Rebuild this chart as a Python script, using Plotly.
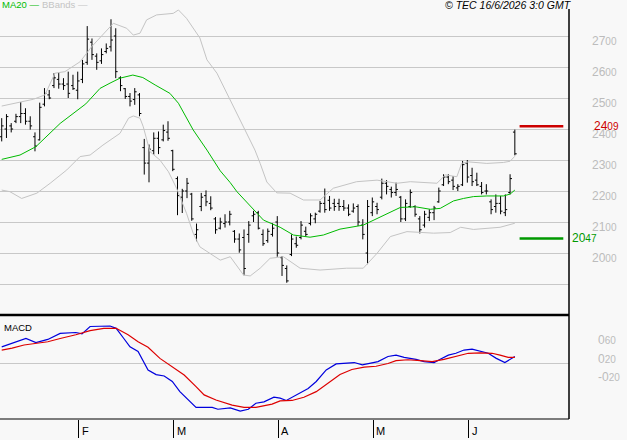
import plotly.graph_objects as go
import pandas as pd

# ---------------- data (prices in EUR) ----------------
HOLIDAYS = ["2026-04-03", "2026-04-06", "2026-05-01"]
dates = pd.bdate_range("2026-01-09", "2026-06-15", freq="C", holidays=HOLIDAYS)

opens = [23.75,24.00,24.10,24.25,24.40,24.50,24.25,23.75,23.65,24.80,
         25.10,25.40,25.60,25.45,25.45,25.40,25.25,25.60,26.15,26.80,
         26.35,26.20,26.50,26.65,27.00,25.65,25.30,25.05,24.95,25.10,
         23.40,22.90,23.30,23.70,23.65,23.90,23.30,22.40,21.80,22.00,
         21.90,20.60,21.50,21.85,21.60,21.10,20.80,20.95,21.00,20.70,
         20.45,20.50,20.60,21.20,21.30,20.60,20.40,20.60,21.00,19.85,
         19.50,19.95,20.30,20.50,20.70,20.95,21.10,21.35,21.60,21.70,
         21.60,21.60,21.50,21.45,21.35,21.50,20.90,20.00,21.30,21.50,
         21.80,22.25,22.05,21.95,21.80,21.10,21.50,21.50,21.10,20.90,
         21.15,21.30,21.65,22.20,22.45,22.35,22.10,22.20,22.90,22.50,
         22.35,22.15,22.00,21.65,21.50,21.60,21.30,21.95,23.90]
highs = [24.35,24.48,24.19,24.49,24.87,24.67,24.41,23.89,24.85,25.32,
         25.26,25.80,25.82,25.64,25.85,25.75,25.85,26.23,27.32,26.92,
         26.44,26.60,26.76,27.54,27.25,25.70,25.32,25.16,25.32,25.16,
         23.68,23.50,23.89,23.92,24.14,24.25,23.33,22.47,22.07,22.42,
         21.94,20.95,21.94,22.02,21.83,21.16,21.14,21.25,21.36,20.74,
         20.63,20.76,21.03,21.36,21.36,20.76,20.79,20.96,21.19,19.90,
         19.60,20.60,20.53,21.03,20.85,21.28,21.30,21.68,22.08,21.84,
         21.75,21.75,21.71,21.57,21.60,21.57,21.09,21.71,21.79,21.62,
         22.40,22.35,22.14,22.27,21.84,21.73,22.05,21.54,21.19,21.36,
         21.41,21.52,22.11,22.54,22.54,22.48,22.22,22.97,23.00,22.75,
         22.59,22.29,22.22,21.73,21.89,21.84,21.89,22.54,23.98]
lows = [23.60,23.71,23.89,24.19,24.19,24.14,23.98,23.28,23.63,24.73,
        24.96,25.32,25.30,25.26,25.00,25.26,24.96,25.48,26.07,26.23,
        25.91,26.10,26.44,26.50,25.64,25.22,24.97,24.73,24.78,24.41,
        22.53,22.28,23.17,23.19,23.60,23.62,22.64,21.22,21.29,21.77,
        21.04,20.38,21.35,21.51,21.38,20.62,20.76,20.82,20.89,20.33,
        20.01,19.28,20.33,21.00,20.76,20.23,20.33,20.53,19.88,19.26,
        19.04,19.90,20.17,20.44,20.53,20.89,20.96,21.30,21.30,21.36,
        21.36,21.36,21.36,21.19,21.30,20.87,20.44,19.64,21.19,21.25,
        21.73,21.89,21.79,21.84,21.00,21.03,21.46,21.17,20.63,20.82,
        21.03,21.06,21.62,22.16,22.22,22.03,22.00,22.16,22.27,22.16,
        22.16,21.89,21.89,21.25,21.30,21.25,21.19,21.89,23.15]
closes = [24.10,24.40,24.00,24.40,24.50,24.25,24.10,23.45,24.70,25.15,
          25.00,25.65,25.45,25.40,25.15,25.30,25.55,26.10,26.90,26.40,
          26.15,26.40,26.60,26.87,25.85,25.40,25.05,24.90,25.20,24.50,
          22.90,23.35,23.70,23.40,23.95,23.70,22.70,21.85,22.00,22.25,
          21.10,20.75,21.80,21.65,21.45,20.75,21.00,21.00,21.25,20.45,
          20.10,19.50,20.90,21.25,20.80,20.30,20.70,20.80,20.00,19.60,
          19.10,20.45,20.25,20.90,20.60,21.20,21.25,21.60,21.40,21.45,
          21.50,21.50,21.45,21.25,21.45,21.00,20.60,21.50,21.65,21.40,
          22.25,22.15,21.95,22.05,21.10,21.60,21.95,21.25,20.75,21.25,
          21.30,21.45,22.00,22.45,22.30,22.15,22.15,22.85,22.45,22.30,
          22.20,21.95,22.00,21.40,21.60,21.35,21.40,22.40,23.20]

# MA20 readings (bar position, value)
ma_pos = [0,3.85,7.2,12.3,17.7,20.7,22.8,24.9,27.6,29.7,32.3,35.4,37.2,40.3,43.2,
          46,48.1,49.5,55.1,58.6,61.4,64.9,67.7,71.2,76.1,79.7,83.9,87.1,90.2,
          92.3,95.1,97.2,99.3,102.1,105.6,107,108]
ma_val = [23.02,23.16,23.43,24.18,24.81,25.31,25.48,25.64,25.74,25.66,25.42,25.15,24.83,23.97,23.32,
          22.65,22.27,21.98,21.06,20.83,20.58,20.51,20.58,20.77,20.90,21.17,21.47,21.49,21.41,
          21.44,21.68,21.76,21.82,21.84,21.84,21.90,22.03]

# Bollinger bands readings
bbu_pos = [0,4.2,6.7,9.1,11.2,13.3,16.5,18.9,23.5,26.3,27.7,29.1,30.5,32.6,36.1,37.2,38.9,41.7,43.2,45.3,
           47.4,53.3,54.4,55.8,57.9,60.7,63.5,67,69.8,74.7,79,83.2,86,91.6,93.4,95.8,96.8,98.2,102.1,105.6,107,108]
bbu_val = [24.74,24.88,24.96,25.10,25.80,25.85,26.17,26.65,27.41,27.25,27.03,27.09,27.52,27.68,27.73,27.84,27.57,26.94,26.23,25.80,
           25.15,23.32,22.89,22.29,21.94,21.93,21.71,21.71,22.09,22.30,22.35,22.25,22.30,22.25,22.52,22.46,22.89,22.94,22.89,22.92,22.96,23.12]
bbl_pos = [0,1.7,4.2,7.4,10.2,13.7,16.5,18.6,21.3,24.9,26.7,27.7,29.1,29.8,31.2,33.3,35.1,36.8,38.9,40.3,
           41.7,43.9,46,48.1,50.9,52.3,54.4,56.5,59.3,62.8,67,72.6,76.1,79,81.8,85.3,90.9,94.4,96.6,99.3,104.9,108]
bbl_val = [22.03,21.98,21.76,21.93,22.25,22.68,23.11,23.16,23.48,23.86,24.35,24.42,24.35,24.07,23.27,23.00,22.62,22.09,21.28,20.64,
           20.20,19.99,19.77,19.88,19.29,19.26,19.51,19.83,19.88,19.51,19.45,19.51,19.51,19.99,20.53,20.69,20.64,20.66,20.83,20.76,20.83,20.96]

# MACD readings
macd_pos = [0,2.2,5.1,7.2,9.7,12.3,15.6,16.9,18.6,22.8,24.1,25.7,27.0,28.7,30.8,32.5,34.2,35.9,37.5,40.9,
            44.3,45.5,48.1,50.2,51.9,53.5,55.2,57.3,58.6,59.9,62.0,64.5,66.2,68.3,70.4,74.2,75.9,77.5,79.2,81.3,
            83.0,84.7,86.0,87.2,88.9,91.0,92.3,94.0,95.6,97.3,99.0,100.7,102.4,104.1,105.9,108]
macd_val = [0.35,0.43,0.53,0.44,0.51,0.64,0.66,0.63,0.79,0.80,0.75,0.53,0.35,0.25,-0.15,-0.25,-0.28,-0.40,-0.62,-0.96,
            -0.96,-1.00,-0.97,-1.04,-1.00,-0.87,-0.84,-0.74,-0.76,-0.81,-0.69,-0.55,-0.40,-0.15,-0.02,0.01,-0.04,-0.01,0.03,0.14,
            0.17,0.12,0.10,0.08,0.03,0.01,0.08,0.17,0.21,0.28,0.30,0.25,0.21,0.10,0.01,0.14]
sig_pos = [0,2.2,4.7,7.2,9.7,12.3,15.6,18.6,21.5,24.1,26.6,28.7,30.8,33.3,35.9,38.4,40.9,42.6,45.1,48.5,
           51.0,53.5,56.9,58.6,61.1,63.6,66.2,68.7,71.2,73.7,76.3,78.8,81.3,83.0,85.5,88.1,90.6,93.1,95.6,98.2,
           100.7,103.2,104.9,106.6,108]
sig_val = [0.28,0.32,0.39,0.43,0.46,0.53,0.61,0.70,0.75,0.75,0.61,0.46,0.34,0.10,-0.08,-0.26,-0.51,-0.69,-0.80,-0.91,
           -0.96,-0.96,-0.89,-0.82,-0.81,-0.74,-0.62,-0.44,-0.25,-0.14,-0.09,-0.07,-0.01,0.05,0.07,0.05,0.03,0.08,0.14,0.21,
           0.22,0.21,0.17,0.12,0.12]

resistance = 24.09
support = 20.47
price_ticks = [19, 20, 21, 22, 23, 24, 25, 26, 27]
macd_ticks = [0.6, 0.2, -0.2]
macd_ticktext = ["0<span style='font-size:10px'>60</span>", "0<span style='font-size:10px'>20</span>",
                 "-0<span style='font-size:10px'>20</span>"]

# ---------------- layout helpers ----------------
W, H = 627, 440
BG = "#f8f8f8"
GRID = "#c8c8c8"
LBL = "#bcbcbc"
FONT = "Liberation Sans, Arial, sans-serif"


def px(x):
    return x / W


def py(y):
    return 1 - y / H


def fmt(v):
    s = f"{v:.2f}"
    a, b = s.split(".")
    return f"{a}<span style='font-size:10px'>{b}</span>"


n = len(dates)
idx = list(range(n))
month_pos = [i for i in range(1, n) if dates[i].month != dates[i - 1].month]
month_txt = [dates[i].strftime("%B")[0] for i in month_pos]

fig = go.Figure()

# Bollinger bands
fig.add_trace(go.Scatter(x=bbu_pos, y=bbu_val, mode="lines", line=dict(color="#c4c4c4", width=1),
                         hoverinfo="skip", xaxis="x", yaxis="y"))
fig.add_trace(go.Scatter(x=bbl_pos, y=bbl_val, mode="lines", line=dict(color="#c4c4c4", width=1),
                         hoverinfo="skip", xaxis="x", yaxis="y"))
# MA20
fig.add_trace(go.Scatter(x=ma_pos, y=ma_val, mode="lines", line=dict(color="#00bb00", width=1),
                         hoverinfo="skip", xaxis="x", yaxis="y"))
# OHLC bars
fig.add_trace(go.Ohlc(x=idx, open=opens, high=highs, low=lows, close=closes,
                      increasing=dict(line=dict(color="black", width=1)),
                      decreasing=dict(line=dict(color="black", width=1)),
                      tickwidth=0.4, hoverinfo="skip", xaxis="x", yaxis="y"))
# support / resistance
fig.add_trace(go.Scatter(x=[n, n + 9.2], y=[resistance, resistance], mode="lines",
                         line=dict(color="#cc0000", width=2.5), hoverinfo="skip", xaxis="x", yaxis="y"))
fig.add_trace(go.Scatter(x=[n, n + 9.2], y=[support, support], mode="lines",
                         line=dict(color="#009900", width=2.5), hoverinfo="skip", xaxis="x", yaxis="y"))

# MACD
fig.add_trace(go.Scatter(x=macd_pos, y=macd_val, mode="lines", line=dict(color="#0000dd", width=1.2),
                         hoverinfo="skip", xaxis="x2", yaxis="y2"))
fig.add_trace(go.Scatter(x=sig_pos, y=sig_val, mode="lines", line=dict(color="#dd0000", width=1.2),
                         hoverinfo="skip", xaxis="x2", yaxis="y2"))

xr = [-0.36, 119.4]
fig.update_layout(
    width=W, height=H, margin=dict(l=0, r=0, t=0, b=0),
    paper_bgcolor=BG, plot_bgcolor=BG, showlegend=False,
    font=dict(family=FONT, size=11, color="black"),
    xaxis=dict(domain=[0, px(569)], range=xr, showgrid=False, zeroline=False, showticklabels=False,
               ticks="", rangeslider=dict(visible=False), anchor="y", fixedrange=True),
    yaxis=dict(domain=[py(315), py(9)], range=[18.0, 27.871], side="right", anchor="x",
               tickvals=price_ticks, ticktext=["" if v == 19 else fmt(v) for v in price_ticks],
               showgrid=True, gridcolor=GRID, gridwidth=1, zeroline=False, ticks="",
               tickfont=dict(color=LBL, size=12, family=FONT), ticklabelstandoff=22,
               ticklabelshift=5, fixedrange=True),
    xaxis2=dict(domain=[0, px(569)], range=xr, anchor="y2", showgrid=False, zeroline=False,
                showticklabels=False, ticks="outside", ticklen=18, tickwidth=1, tickcolor="black",
                tickvals=[p + 0.25 for p in month_pos], fixedrange=True),
    yaxis2=dict(domain=[py(419), py(315)], range=[-1.211, 1.038], side="right", anchor="x2",
                tickvals=macd_ticks, ticktext=macd_ticktext, showgrid=False,
                zeroline=True, zerolinecolor=GRID, zerolinewidth=1, ticks="",
                tickfont=dict(color=LBL, size=12, family=FONT), ticklabelstandoff=28,
                ticklabelshift=5, fixedrange=True),
)

shapes = [
    dict(type="line", xref="paper", yref="paper", x0=0, x1=px(569), y0=py(315), y1=py(315),
         line=dict(color="black", width=2.5)),
    dict(type="line", xref="paper", yref="paper", x0=px(569), x1=px(569), y0=py(9), y1=py(419),
         line=dict(color="black", width=1.5)),
    dict(type="line", xref="paper", yref="paper", x0=0, x1=px(569), y0=py(419), y1=py(419),
         line=dict(color="black", width=1)),
]
fig.update_layout(shapes=shapes)

ann = [
    dict(text="MA20 —", x=0, y=py(5), xref="paper", yref="paper", xanchor="left", yanchor="middle",
         showarrow=False, font=dict(color="#00bb00", size=9.5, family=FONT)),
    dict(text="BBands —", x=px(40), y=py(5), xref="paper", yref="paper", xanchor="left", yanchor="middle",
         showarrow=False, font=dict(color="#c4c4c4", size=9.5, family=FONT)),
    dict(text="<i>© TEC 16/6/2026 3:0 GMT</i>", x=px(574), y=py(5), xref="paper", yref="paper",
         xanchor="right", yanchor="middle", showarrow=False, font=dict(color="black", size=10.5, family=FONT)),
    dict(text="MACD", x=px(2), y=py(327), xref="paper", yref="paper", xanchor="left", yanchor="middle",
         showarrow=False, font=dict(color="black", size=9.5, family=FONT)),
    dict(text=fmt(resistance), x=px(592), y=resistance, xref="paper", yref="y", xanchor="left",
         yanchor="middle", showarrow=False, font=dict(color="#cc0000", size=12, family=FONT)),
    dict(text=fmt(support), x=px(570), y=support, xref="paper", yref="y", xanchor="left",
         yanchor="middle", showarrow=False, font=dict(color="#009900", size=12, family=FONT)),
]
for p, t in zip(month_pos, month_txt):
    ann.append(dict(text=t, x=p + 0.25, y=py(439), xref="x2", yref="paper", xanchor="left",
                    yanchor="bottom", xshift=1, showarrow=False,
                    font=dict(color="black", size=11, family=FONT)))
fig.update_layout(annotations=ann)

fig.write_html("out.html")
